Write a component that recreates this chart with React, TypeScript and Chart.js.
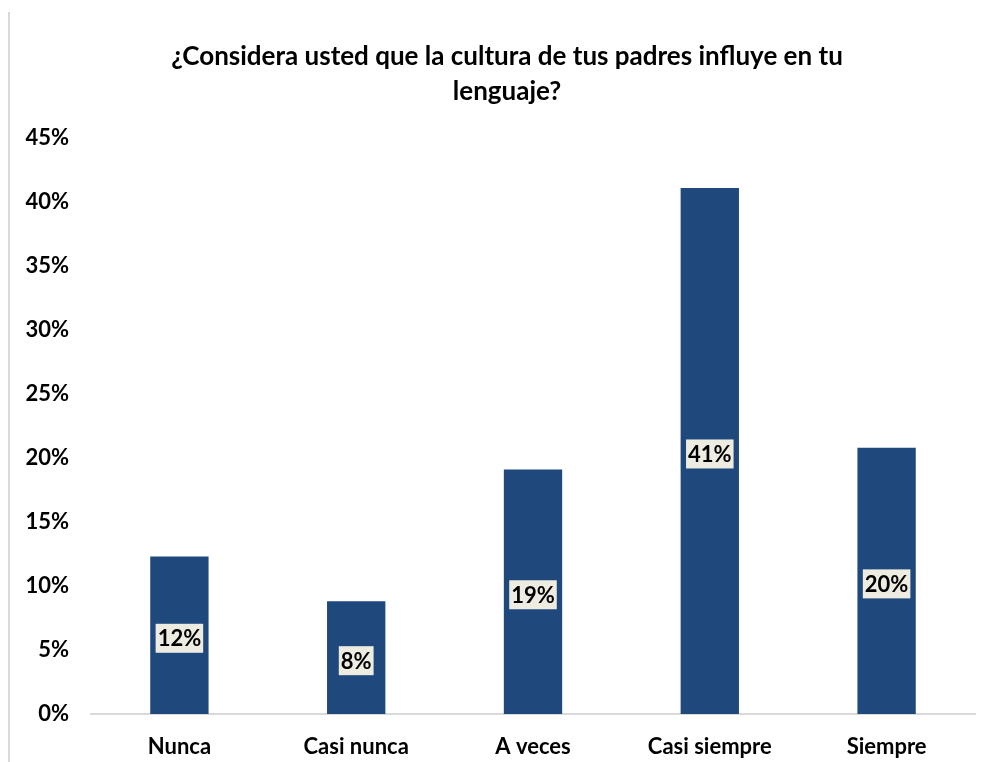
import React, { useEffect, useRef } from "react";
import { Chart, registerables } from "chart.js";

Chart.register(...registerables);

const categories = ["Nunca", "Casi nunca", "A veces", "Casi siempre", "Siempre"];
const values = [12.3, 8.8, 19.1, 41.1, 20.8];
const valueLabels = ["12%", "8%", "19%", "41%", "20%"];
const titleLines = ["¿Considera usted que la cultura de tus padres influye en tu", "lenguaje?"];
const yTicks = [0, 5, 10, 15, 20, 25, 30, 35, 40, 45];

const FONT = "Lato, 'Open Sans', sans-serif";

const decorPlugin = {
  id: "decor",
  beforeDraw(chart: any) {
    const ctx = chart.ctx;
    ctx.save();
    ctx.fillStyle = "#ffffff";
    ctx.fillRect(0, 0, chart.width, chart.height);
    ctx.strokeStyle = "#d9d9d9";
    ctx.lineWidth = 2;
    ctx.beginPath();
    ctx.moveTo(9, 12);
    ctx.lineTo(9, chart.height);
    ctx.stroke();
    ctx.fillStyle = "#000000";
    ctx.font = `bold 26px ${FONT}`;
    ctx.textAlign = "center";
    ctx.textBaseline = "middle";
    titleLines.forEach((t, i) => ctx.fillText(t, 507, 57 + i * 35));
    ctx.restore();
  },
  afterDatasetsDraw(chart: any) {
    const ctx = chart.ctx;
    const meta = chart.getDatasetMeta(0);
    ctx.save();
    ctx.font = `bold 22px ${FONT}`;
    ctx.textAlign = "center";
    ctx.textBaseline = "middle";
    meta.data.forEach((bar: any, i: number) => {
      const txt = valueLabels[i];
      const cx = bar.x;
      const cy = (bar.y + bar.base) / 2 + 3;
      const w = ctx.measureText(txt).width + 4;
      const h = 29;
      ctx.fillStyle = "#EEECE1";
      ctx.fillRect(cx - w / 2, cy - h / 2, w, h);
      ctx.fillStyle = "#000000";
      ctx.fillText(txt, cx, cy + 1);
    });
    ctx.restore();
  },
};

export default function App() {
  const ref = useRef<HTMLCanvasElement>(null);
  useEffect(() => {
    document.body.style.margin = "0";
    const chart = new Chart(ref.current!, {
      type: "bar",
      data: {
        labels: categories,
        datasets: [
          {
            data: values,
            backgroundColor: "#1F497D",
            borderWidth: 0,
            categoryPercentage: 1,
            barPercentage: 0.33,
          },
        ],
      },
      options: {
        animation: false,
        responsive: false,
        devicePixelRatio: 1,
        layout: { padding: { top: 138, right: 16, left: 0, bottom: 0 } },
        plugins: { legend: { display: false }, title: { display: false }, tooltip: { enabled: false } },
        scales: {
          x: {
            grid: { display: false, drawTicks: false },
            border: { display: true, color: "#d9d9d9", width: 2 },
            ticks: { color: "#000", font: { family: FONT, size: 22, weight: "bold" }, padding: 20 },
            afterFit(scale: any) {
              scale.height = 48;
            },
          },
          y: {
            min: 0,
            max: 45,
            afterBuildTicks(scale: any) {
              scale.ticks = yTicks.map((v) => ({ value: v }));
            },
            grid: { display: false, drawTicks: false },
            border: { display: false },
            ticks: {
              color: "#000",
              font: { family: FONT, size: 22, weight: "bold" },
              padding: 22,
              callback: (v: any) => `${v}%`,
            },
            afterFit(scale: any) {
              scale.width = 91;
            },
          },
        },
      },
      plugins: [decorPlugin],
    });
    return () => chart.destroy();
  }, []);
  return (
    <div style={{ width: 991, height: 762 }}>
      <canvas ref={ref} width={991} height={762} style={{ display: "block" }} />
    </div>
  );
}
